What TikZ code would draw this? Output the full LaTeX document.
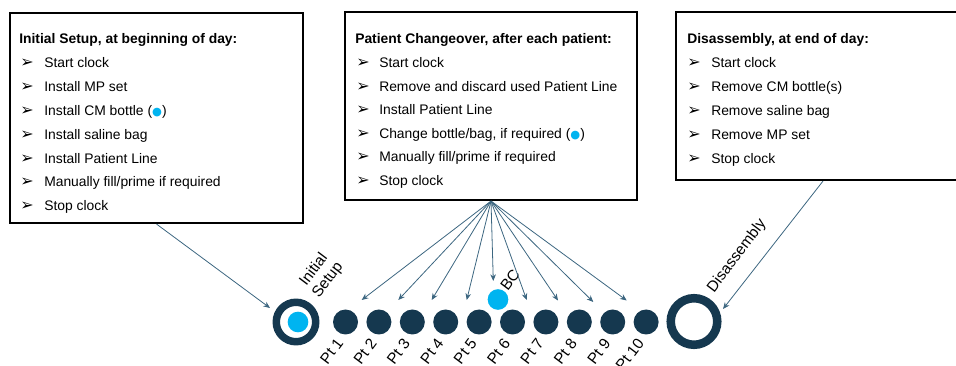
\documentclass[tikz,border=0pt]{standalone}
\usepackage{fontspec}
\setmainfont{Liberation Sans}
\newfontfamily\djv{DejaVu Sans}
\usetikzlibrary{arrows.meta,fit}
\definecolor{navy}{HTML}{15384F}
\definecolor{cyanb}{HTML}{00B4F0}
\definecolor{arr}{HTML}{3C6680}
\newcommand{\bdot}{{\color{cyanb}\djv\fontsize{8.5}{8}\selectfont ●}}
\begin{document}
\begin{tikzpicture}[x=0.75pt,y=-0.75pt,
  font=\fontsize{10.4}{12}\selectfont,
  box/.style={draw=black, line width=1.6pt, inner sep=0pt},
  ttl/.style={anchor=base west, inner sep=0pt, font=\fontsize{10.4}{12}\selectfont\bfseries},
  itm/.style={anchor=base west, inner sep=0pt},
  bul/.style={anchor=base west, inner sep=0pt, font=\djv\fontsize{12}{12}\selectfont},
  con/.style={draw=arr, line width=0.6pt, -{Stealth[length=5pt,width=4.2pt]}},
  dotn/.style={circle, fill=navy, inner sep=0pt, minimum size=18.75pt},
  ring/.style={circle, draw=navy, inner sep=0pt},
  cdot/.style={circle, fill=cyanb, inner sep=0pt, minimum size=15.5pt},
  lab/.style={rotate=53, inner sep=0pt, font=\fontsize{11.5}{13}\selectfont}
]
\useasboundingbox (0,0) rectangle (956,366);

% boxes
\node[box, fit={(10,13) (303,223)}] (b1) {};
\node[box, fit={(345,12) (637,200)}] (b2) {};
\node[box, fit={(676,12) (970,180)}] (b3) {};

% box 1 text
\node[ttl] (t1) at (19,44) {Initial Setup, at beginning of day:};
\foreach \s [count=\k from 0] in {Start clock, Install MP set, Install CM bottle (\bdot), Install saline bag, Install Patient Line, Manually fill/prime if required, Stop clock} {
  \node[bul] (u1\k) at (20,68+23.8*\k) {➢};
  \node[itm] (i1\k) at (44,68+23.8*\k) {\s};
}
% box 2 text
\node[ttl] (t2) at (355,44) {Patient Changeover, after each patient:};
\foreach \s [count=\k from 0] in {Start clock, Remove and discard used Patient Line, Install Patient Line, {Change bottle/bag, if required (\bdot)}, Manually fill/prime if required, Stop clock} {
  \node[bul] (u2\k) at (356,67.5+23.6*\k) {➢};
  \node[itm] (i2\k) at (379,67.5+23.6*\k) {\s};
}
% box 3 text
\node[ttl] (t3) at (687,44) {Disassembly, at end of day:};
\foreach \s [count=\k from 0] in {Start clock, Remove CM bottle(s), Remove saline bag, Remove MP set, Stop clock} {
  \node[bul] (u3\k) at (687,68+23.8*\k) {➢};
  \node[itm] (i3\k) at (711,68+23.8*\k) {\s};
}

% timeline
\node[ring, line width=5.6pt, minimum size=29.6pt] (ini) at (296,322) {};
\node[cdot] (ic) at (298,322) {};
\foreach \i in {1,...,10} {
  \node[dotn] (p\i) at ({345.5+(\i-1)*33.4},322) {};
  \node[lab, anchor=east] (l\i) at ({340+(\i-1)*33.4},340) {Pt \i};
}
\node[cdot] (bc) at (498,299.5) {};
\node[ring, line width=6.4pt, minimum size=34.9pt] (dis) at (694,321.5) {};

% labels
\node[lab, align=center] (lini) at (321,275) {Initial\\Setup};
\node[lab] (lbc) at (510,280) {BC};
\node[lab] (ldis) at (737,256) {Disassembly};

% connector targets
\coordinate (e1) at (270,308);
\coordinate (e3) at (723,309);
\coordinate (f1) at (361.7,300);
\coordinate (f2) at (398.3,300);
\coordinate (f3) at (431.7,300);
\coordinate (f4) at (466.7,300);
\coordinate (f5) at (493.3,281);
\coordinate (f6) at (526.7,300);
\coordinate (f7) at (558,300.5);
\coordinate (f8) at (593.3,302);
\coordinate (f9) at (626.7,300.5);

\draw[con] (b1.south) -- (e1);
\draw[con] (b3.south) -- (e3);
\foreach \j in {1,...,9} { \draw[con] (b2.south) -- (f\j); }
\end{tikzpicture}
\end{document}
